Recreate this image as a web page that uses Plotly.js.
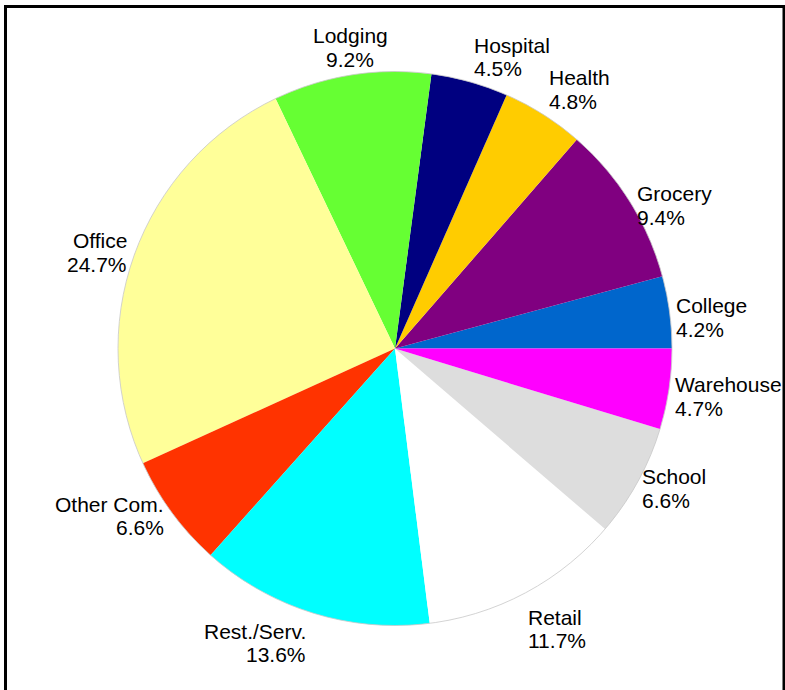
<!DOCTYPE html>
<html>
<head>
<meta charset="utf-8">
<script src="https://cdn.plot.ly/plotly-3.0.1.min.js"></script>
<style>
  html, body { margin: 0; padding: 0; background: #fff; }
  #chart { width: 785px; height: 690px; }
</style>
</head>
<body>
<div id="chart"></div>
<script>
// ---- data ----
const labels = ['College', 'Grocery', 'Health', 'Hospital', 'Lodging', 'Office',
                'Other Com.', 'Rest./Serv.', 'Retail', 'School', 'Warehouse'];
const shares = [4.2, 9.4, 4.8, 4.5, 9.2, 24.7, 6.6, 13.6, 11.7, 6.6, 4.7];

// ---- styles ----
const colors = ['#0066CC', '#800080', '#FFCC00', '#000080', '#66FF33', '#FFFF99',
                '#FF3300', '#00FFFF', '#FFFFFF', '#DDDDDD', '#FF00FF'];
// small hand placement nudges of the labels (px) relative to 1.1 R at mid-angle
const nudgeX = [-22, -17, -10, -4, 3, 19, 15, 2.5, -12, -21, -22];
const nudgeY = [9, 18.6, -2, 2, 0, 8, -13, 3.5, 12, -7, 3];

const W = 785, H = 690;
const cx = 395, cy = 348.5, R = 277;
const dom = {
  x: [(cx - R) / W, (cx + R) / W],
  y: [(H - cy - R) / H, (H - cy + R) / H]
};

const total = shares.reduce((a, b) => a + b, 0);
const annotations = [];
let cum = 0;
const font = {family: 'Liberation Sans, Arial, sans-serif', size: 21, color: '#000'};
shares.forEach((v, i) => {
  const mid = (cum + v / 2) / total * 2 * Math.PI;
  cum += v;
  const c = Math.cos(mid), s = Math.sin(mid);
  const px = cx + 1.1 * R * c + nudgeX[i];
  const py = cy - 1.1 * R * s + nudgeY[i];
  const xanchor = Math.abs(c) < 0.2 ? 'center' : (c > 0 ? 'left' : 'right');
  const lines = [labels[i], v.toFixed(1) + '%'];
  lines.forEach((t, k) => {
    annotations.push({
      xref: 'paper', yref: 'paper',
      x: px / W, y: 1 - py / H,
      xanchor: xanchor, yanchor: 'middle',
      yshift: k === 0 ? 11.8 : -11.8,
      text: t, showarrow: false, borderpad: 0,
      font: font
    });
  });
});

// plotly's counterclockwise pies end the first slice at `rotation`,
// so shift by the first slice so that it starts at 3 o'clock
const rotation = 90 - shares[0] / total * 360;

const trace = {
  type: 'pie',
  labels: labels,
  values: shares,
  sort: false,
  direction: 'counterclockwise',
  rotation: rotation,
  textinfo: 'none',
  hoverinfo: 'label+percent',
  marker: {colors: colors, line: {color: 'rgba(0,0,0,0)', width: 0}},
  domain: dom,
  showlegend: false
};

const layout = {
  width: W, height: H,
  margin: {l: 0, r: 0, t: 0, b: 0},
  paper_bgcolor: '#fff',
  showlegend: false,
  annotations: annotations,
  shapes: [
    {
      type: 'circle', xref: 'paper', yref: 'paper',
      x0: (cx - R) / W, x1: (cx + R) / W,
      y0: (H - cy - R) / H, y1: (H - cy + R) / H,
      line: {color: '#c8c8c8', width: 0.8}, fillcolor: 'rgba(0,0,0,0)'
    },
    {
      type: 'rect', xref: 'paper', yref: 'paper',
      x0: 5.5 / W, x1: 784 / W, y0: -0.05, y1: 1 - 6.5 / H,
      line: {color: '#000', width: 3}, fillcolor: 'rgba(0,0,0,0)'
    }
  ]
};

Plotly.newPlot('chart', [trace], layout, {displayModeBar: false, staticPlot: true});
</script>
</body>
</html>
